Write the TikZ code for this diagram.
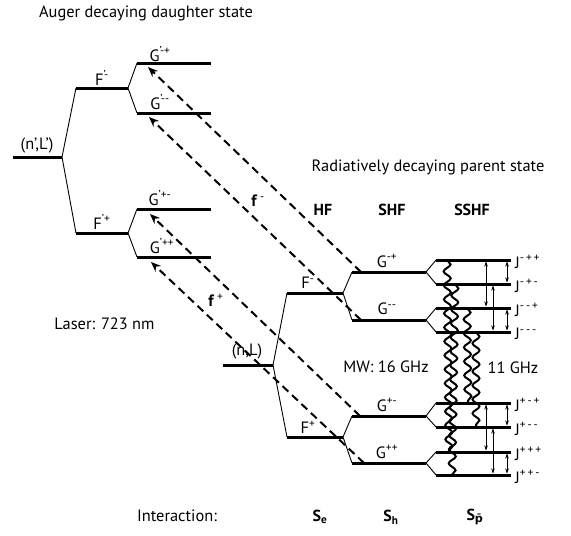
\documentclass[tikz,border=0pt]{standalone}
\usepackage{fontspec}
\setmainfont{PT Sans}
\newfontfamily\dejavu{DejaVu Sans}
\usepackage{tikz}
\usetikzlibrary{positioning, arrows.meta, calc, decorations.pathmorphing}

\tikzset{
  lvl/.style={rectangle, fill=black, inner sep=0pt, outer sep=0pt, minimum height=3pt},
  split/.style={line width=0.9pt},
  photon/.style={-{Stealth[length=10pt,width=8pt]}, line width=2pt, dash pattern=on 8pt off 5pt},
  gap/.style={{Stealth[length=5pt,width=3.5pt]}-{Stealth[length=5pt,width=3.5pt]}, line width=0.6pt},
  mw/.style={line width=2pt, decorate, decoration={snake, amplitude=3.5pt, segment length=14pt}},
  lbl/.style={inner sep=0pt, font=\fontsize{16.4}{19}\selectfont},
  head/.style={inner sep=0pt, font=\fontsize{16}{18}\selectfont\bfseries}
}

\begin{document}
\begin{tikzpicture}[x=1pt, y=-1pt]
\useasboundingbox (0,0) rectangle (571,536);

% daughter state
\node[lvl, minimum width=49pt] (nLp) at (37.5,157) {};
\node[lvl, minimum width=52pt] (Fpm) at (102,88) {};
\node[lvl, minimum width=52pt] (Fpp) at (102,233) {};
\node[lvl, minimum width=74pt] (Gpmp) at (174,63) {};
\node[lvl, minimum width=74pt] (Gpmm) at (174,113) {};
\node[lvl, minimum width=74pt] (Gppm) at (174,209) {};
\node[lvl, minimum width=74pt] (Gppp) at (174,257) {};

\draw[split] (nLp.east) -- (Fpm.west);
\draw[split] (nLp.east) -- (Fpp.west);
\draw[split] (Fpm.east) -- (Gpmp.west);
\draw[split] (Fpm.east) -- (Gpmm.west);
\draw[split] (Fpp.east) -- (Gppm.west);
\draw[split] (Fpp.east) -- (Gppp.west);

% parent state
\node[lvl, minimum width=50pt] (nL) at (248,365) {};
\node[lvl, minimum width=56pt] (Fm) at (315,293) {};
\node[lvl, minimum width=56pt] (Fp) at (315,437) {};
\node[lvl, minimum width=74pt] (Gmp) at (389,272) {};
\node[lvl, minimum width=74pt] (Gmm) at (389,320) {};
\node[lvl, minimum width=74pt] (Gpm) at (389,416) {};
\node[lvl, minimum width=74pt] (Gpp) at (389,463) {};

\node[lvl, minimum width=75pt] (Jmpp) at (473.5,260) {};
\node[lvl, minimum width=75pt] (Jmpm) at (473.5,284) {};
\node[lvl, minimum width=75pt] (Jmmp) at (473.5,308) {};
\node[lvl, minimum width=75pt] (Jmmm) at (473.5,332) {};
\node[lvl, minimum width=75pt] (Jpmp) at (473.5,403) {};
\node[lvl, minimum width=75pt] (Jpmm) at (473.5,427) {};
\node[lvl, minimum width=75pt] (Jppp) at (473.5,452) {};
\node[lvl, minimum width=75pt] (Jppm) at (473.5,475) {};

\draw[split] (nL.east) -- (Fm.west);
\draw[split] (nL.east) -- (Fp.west);
\draw[split] (Fm.east) -- (Gmp.west);
\draw[split] (Fm.east) -- (Gmm.west);
\draw[split] (Fp.east) -- (Gpm.west);
\draw[split] (Fp.east) -- (Gpp.west);
\draw[split] (Gmp.east) -- (Jmpp.west);
\draw[split] (Gmp.east) -- (Jmpm.west);
\draw[split] (Gmm.east) -- (Jmmp.west);
\draw[split] (Gmm.east) -- (Jmmm.west);
\draw[split] (Gpm.east) -- (Jpmp.west);
\draw[split] (Gpm.east) -- (Jpmm.west);
\draw[split] (Gpp.east) -- (Jppp.west);
\draw[split] (Gpp.east) -- (Jppm.west);

% laser transitions
\draw[photon] ([xshift=9pt]Gmp.west) -- ([xshift=11pt,yshift=-4pt]Gpmp.west);
\draw[photon] ([xshift=9pt]Gmm.west) -- ([xshift=12pt,yshift=-4pt]Gpmm.west);
\draw[photon] ([xshift=8pt]Gpm.west) -- ([xshift=13pt,yshift=-5pt]Gppm.west);
\draw[photon] ([xshift=12pt]Gpp.west) -- ([xshift=14pt,yshift=-5pt]Gppp.west);

% microwave transitions
\draw[mw] ([xshift=11pt]Jmpp.west) -- ([xshift=13pt]Jppp.west);
\draw[mw] ([xshift=19pt]Jmpm.west) -- ([xshift=16pt]Jppm.west);
\draw[mw] ([xshift=31pt]Jmmp.west) -- ([xshift=32pt]Jpmp.west);
\draw[mw] ([xshift=40pt]Jmmm.west) -- ([xshift=40pt]Jpmm.west);

% level spacings
\draw[gap] ([xshift=71pt]Jmpp.south west) -- ([xshift=71pt]Jmpm.north west);
\draw[gap] ([xshift=71pt]Jmmp.south west) -- ([xshift=71pt]Jmmm.north west);
\draw[gap] ([xshift=50pt]Jmpp.south west) -- ([xshift=50pt]Jmmp.north west);
\draw[gap] ([xshift=57pt]Jmpm.south west) -- ([xshift=57pt]Jmmm.north west);
\draw[gap] ([xshift=71pt]Jpmp.south west) -- ([xshift=71pt]Jpmm.north west);
\draw[gap] ([xshift=71pt]Jppp.south west) -- ([xshift=71pt]Jppm.north west);
\draw[gap] ([xshift=50pt]Jpmp.south west) -- ([xshift=50pt]Jppp.north west);
\draw[gap] ([xshift=57pt]Jpmm.south west) -- ([xshift=57pt]Jppm.north west);

% labels
\node[lbl] (daughter) at (146,13) {Auger decaying daughter state};
\node[lbl] (parent) at (428,167) {Radiatively decaying parent state};
\node[head] (hf) at (323,210) {HF};
\node[head] (shf) at (392,210) {SHF};
\node[head] (sshf) at (472,210) {SSHF};

\node[lbl] (nLplbl) at (37,145) {(n',L')};
\node[lbl] (Fpmlbl) at (102,78) {F\textsuperscript{'-}};
\node[lbl] (Fpplbl) at (102,222) {F\textsuperscript{'+}};
\node[lbl] (Gpmplbl) at (160,54) {G\textsuperscript{'-+}};
\node[lbl] (Gpmmlbl) at (160,102) {G\textsuperscript{'-{}-}};
\node[lbl] (Gppmlbl) at (160,198) {G\textsuperscript{'+-}};
\node[lbl] (Gppplbl) at (162,246) {G\textsuperscript{'++}};

\node[lbl] (nLlbl) at (247,351) {(n,L)};
\node[lbl] (Fmlbl) at (308,283) {F\textsuperscript{-}};
\node[lbl] (Fplbl) at (308,427) {F\textsuperscript{+}};
\node[lbl] (Gmplbl) at (387,261) {G\textsuperscript{-+}};
\node[lbl] (Gmmlbl) at (387,309) {G\textsuperscript{-{}-}};
\node[lbl] (Gpmlbl) at (387,405) {G\textsuperscript{+-}};
\node[lbl] (Gpplbl) at (387,452) {G\textsuperscript{++}};

\node[lbl, anchor=west] at ([xshift=4pt,yshift=-2pt]Jmpp.east) {J\textsuperscript{-\,+\,+}};
\node[lbl, anchor=west] at ([xshift=4pt,yshift=-2pt]Jmpm.east) {J\textsuperscript{-\,+\,-}};
\node[lbl, anchor=west] at ([xshift=4pt,yshift=-2pt]Jmmp.east) {J\textsuperscript{-\,-\,+}};
\node[lbl, anchor=west] at ([xshift=4pt,yshift=-2pt]Jmmm.east) {J\textsuperscript{-\,-\,-}};
\node[lbl, anchor=west] at ([xshift=4pt,yshift=-2pt]Jpmp.east) {J\textsuperscript{+\,-\,+}};
\node[lbl, anchor=west] at ([xshift=4pt,yshift=-2pt]Jpmm.east) {J\textsuperscript{+\,-\,-}};
\node[lbl, anchor=west] at ([xshift=4pt,yshift=-2pt]Jppp.east) {J\textsuperscript{+\,+\,+}};
\node[lbl, anchor=west] at ([xshift=4pt,yshift=-2pt]Jppm.east) {J\textsuperscript{+\,+\,-}};

\node[lbl] (fminus) at (258,201) {\textbf{f}\,\textsuperscript{-}};
\node[lbl] (fplus) at (216,300) {\textbf{f}\,\textsuperscript{+}};
\node[lbl] (laser) at (104.5,324) {Laser: 723 nm};
\node[lbl] (mw16) at (386,367) {MW: 16 GHz};
\node[lbl] (mw11) at (513,368) {11 GHz};

\node[lbl] (inter) at (177,516) {Interaction:};
\node[head] (Se) at (320,517) {S\textsubscript{e}};
\node[head] (Sh) at (391,517) {S\textsubscript{h}};
\node[head] (Sp) at (475,517) {S\textsubscript{\dejavu\bfseries p̄}};
\end{tikzpicture}
\end{document}
